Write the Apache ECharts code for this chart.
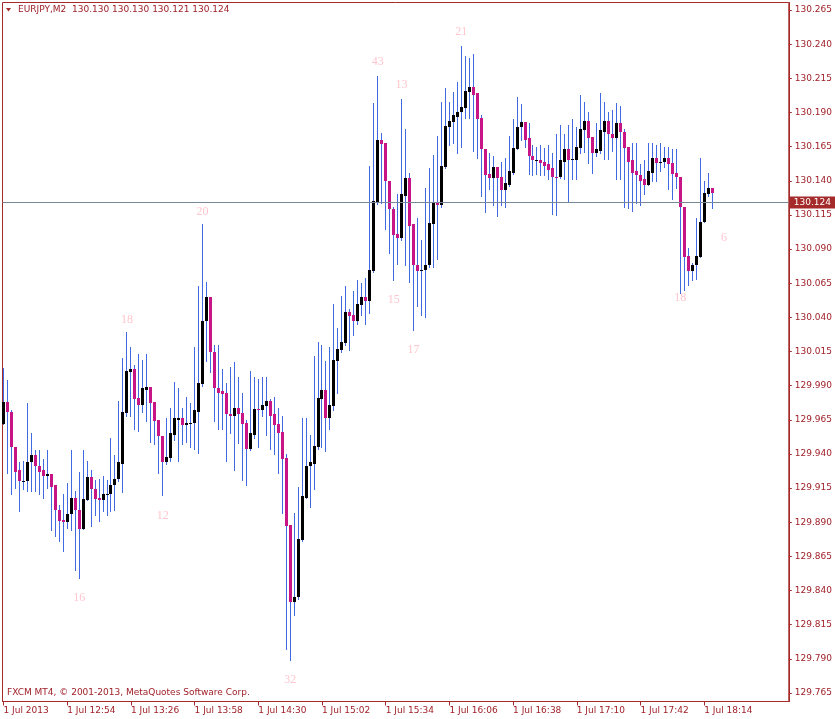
<!DOCTYPE html>
<html>
<head>
<meta charset="utf-8">
<title>EURJPY,M2</title>
<script src="https://cdn.jsdelivr.net/npm/echarts@6/dist/echarts.min.js"></script>
<style>
html, body { margin: 0; padding: 0; background: #fff; }
#chart { width: 835px; height: 719px; }
</style>
</head>
<body>
<div id="chart"></div>
<script>
// EURJPY M2, 1 Jul 2013 - one bar every 2 minutes from 12:22
var opens = [
  129.962, 129.978, 129.971, 129.945, 129.928, 129.920, 129.920, 129.934, 129.939, 129.931,
  129.928, 129.924, 129.925, 129.917, 129.899, 129.892, 129.890, 129.896, 129.908, 129.899,
  129.885, 129.906, 129.923, 129.914, 129.908, 129.906, 129.910, 129.911, 129.917, 129.922,
  129.933, 129.970, 130.000, 130.002, 129.981, 129.976, 129.987, 129.989, 129.978, 129.965,
  129.953, 129.934, 129.937, 129.954, 129.965, 129.966, 129.961, 129.963, 129.963, 129.971,
  129.991, 130.037, 130.055, 130.015, 129.988, 129.986, 129.985, 129.969, 129.968, 129.974,
  129.970, 129.963, 129.944, 129.954, 129.973, 129.972, 129.975, 129.979, 129.969, 129.962,
  129.956, 129.937, 129.888, 129.832, 129.835, 129.877, 129.908, 129.931, 129.933, 129.945,
  129.980, 129.987, 129.966, 129.975, 130.008, 130.016, 130.021, 130.044, 130.042, 130.037,
  130.049, 130.055, 130.052, 130.074, 130.124, 130.170, 130.168, 130.140, 130.119, 130.101,
  130.098, 130.129, 130.142, 130.108, 130.078, 130.074, 130.075, 130.078, 130.108, 130.124,
  130.122, 130.150, 130.179, 130.183, 130.187, 130.190, 130.193, 130.205, 130.209, 130.204,
  130.186, 130.163, 130.145, 130.142, 130.150, 130.143, 130.133, 130.137, 130.146, 130.163,
  130.179, 130.183, 130.171, 130.158, 130.155, 130.155, 130.154, 130.152, 130.149, 130.143,
  130.143, 130.154, 130.163, 130.155, 130.155, 130.164, 130.177, 130.184, 130.172, 130.160,
  130.162, 130.176, 130.184, 130.174, 130.171, 130.182, 130.176, 130.165, 130.155, 130.147,
  130.144, 130.141, 130.137, 130.146, 130.157, 130.153, 130.154, 130.157, 130.153, 130.146,
  130.143, 130.121, 130.085, 130.074, 130.078, 130.084, 130.110, 130.130, 130.135
];
var highs = [
  130.003, 129.994, 129.972, 129.945, 129.934, 129.935, 129.977, 129.955, 129.943, 129.943,
  129.936, 129.943, 129.925, 129.917, 129.903, 129.911, 129.919, 129.943, 129.913, 129.927,
  129.943, 129.935, 129.928, 129.921, 129.922, 129.924, 129.921, 129.952, 129.939, 129.979,
  130.010, 130.029, 130.018, 130.005, 130.013, 130.009, 130.013, 129.989, 129.978, 129.965,
  129.953, 129.966, 129.974, 129.993, 129.988, 129.974, 129.982, 129.977, 130.018, 130.063,
  130.108, 130.066, 130.055, 130.020, 130.020, 130.002, 129.992, 130.004, 130.007, 129.996,
  129.985, 129.965, 130.001, 129.996, 129.995, 129.996, 129.996, 129.980, 129.982, 129.974,
  129.968, 129.940, 129.888, 129.897, 129.916, 129.966, 129.966, 129.954, 130.012, 130.022,
  130.020, 130.008, 130.018, 130.050, 130.032, 130.056, 130.063, 130.046, 130.059, 130.067,
  130.065, 130.069, 130.151, 130.197, 130.217, 130.175, 130.168, 130.140, 130.121, 130.130,
  130.200, 130.178, 130.146, 130.108, 130.113, 130.097, 130.135, 130.149, 130.159, 130.173,
  130.198, 130.208, 130.198, 130.205, 130.212, 130.239, 130.231, 130.230, 130.233, 130.204,
  130.188, 130.163, 130.160, 130.158, 130.150, 130.154, 130.157, 130.173, 130.185, 130.201,
  130.196, 130.183, 130.182, 130.166, 130.165, 130.166, 130.164, 130.166, 130.160, 130.174,
  130.181, 130.174, 130.181, 130.185, 130.179, 130.203, 130.198, 130.190, 130.172, 130.182,
  130.204, 130.198, 130.190, 130.192, 130.197, 130.195, 130.178, 130.165, 130.168, 130.168,
  130.152, 130.155, 130.168, 130.168, 130.166, 130.168, 130.165, 130.165, 130.163, 130.163,
  130.143, 130.121, 130.091, 130.080, 130.113, 130.157, 130.140, 130.146, 130.135
];
var lows = [
  129.962, 129.926, 129.911, 129.915, 129.898, 129.914, 129.913, 129.913, 129.913, 129.911,
  129.908, 129.915, 129.884, 129.880, 129.876, 129.869, 129.886, 129.884, 129.855, 129.849,
  129.885, 129.906, 129.887, 129.895, 129.891, 129.898, 129.895, 129.898, 129.899, 129.920,
  129.912, 129.968, 129.968, 129.958, 129.957, 129.971, 129.964, 129.949, 129.947, 129.926,
  129.910, 129.933, 129.935, 129.950, 129.935, 129.947, 129.949, 129.945, 129.944, 129.941,
  129.990, 130.008, 130.000, 129.964, 129.958, 129.958, 129.935, 129.955, 129.928, 129.948,
  129.921, 129.917, 129.943, 129.952, 129.945, 129.968, 129.954, 129.944, 129.940, 129.926,
  129.897, 129.797, 129.789, 129.822, 129.834, 129.876, 129.908, 129.901, 129.914, 129.944,
  129.945, 129.942, 129.958, 129.972, 129.985, 130.015, 130.020, 130.016, 130.027, 130.035,
  130.042, 130.035, 130.043, 130.073, 130.123, 130.124, 130.105, 130.087, 130.067, 130.079,
  130.097, 130.078, 130.066, 130.031, 130.048, 130.042, 130.040, 130.077, 130.077, 130.083,
  130.121, 130.149, 130.166, 130.168, 130.160, 130.165, 130.186, 130.186, 130.162, 130.157,
  130.129, 130.117, 130.134, 130.122, 130.114, 130.122, 130.121, 130.136, 130.145, 130.163,
  130.170, 130.165, 130.145, 130.144, 130.145, 130.144, 130.144, 130.141, 130.116, 130.115,
  130.142, 130.141, 130.125, 130.141, 130.141, 130.160, 130.161, 130.153, 130.146, 130.158,
  130.160, 130.156, 130.156, 130.162, 130.141, 130.141, 130.121, 130.120, 130.118, 130.124,
  130.122, 130.130, 130.137, 130.140, 130.140, 130.147, 130.150, 130.134, 130.127, 130.135,
  130.058, 130.060, 130.064, 130.067, 130.068, 130.084, 130.110, 130.129, 130.120
];
var closes = [
  129.978, 129.971, 129.945, 129.927, 129.920, 129.920, 129.934, 129.939, 129.931, 129.927,
  129.924, 129.925, 129.916, 129.899, 129.891, 129.890, 129.896, 129.908, 129.899, 129.885,
  129.907, 129.923, 129.914, 129.907, 129.906, 129.911, 129.911, 129.917, 129.922, 129.934,
  129.971, 130.001, 130.002, 129.980, 129.976, 129.988, 129.989, 129.977, 129.964, 129.953,
  129.934, 129.938, 129.955, 129.966, 129.966, 129.961, 129.963, 129.963, 129.972, 129.992,
  130.037, 130.055, 130.015, 129.988, 129.985, 129.984, 129.969, 129.968, 129.974, 129.969,
  129.962, 129.944, 129.955, 129.973, 129.972, 129.976, 129.979, 129.968, 129.961, 129.955,
  129.936, 129.887, 129.832, 129.835, 129.878, 129.909, 129.931, 129.934, 129.946, 129.981,
  129.987, 129.966, 129.976, 130.009, 130.017, 130.022, 130.044, 130.041, 130.037, 130.050,
  130.055, 130.052, 130.075, 130.125, 130.170, 130.167, 130.140, 130.119, 130.100, 130.098,
  130.130, 130.142, 130.107, 130.078, 130.074, 130.075, 130.078, 130.109, 130.124, 130.122,
  130.151, 130.180, 130.184, 130.188, 130.190, 130.194, 130.206, 130.209, 130.203, 130.185,
  130.163, 130.144, 130.142, 130.150, 130.142, 130.133, 130.138, 130.147, 130.164, 130.179,
  130.183, 130.170, 130.158, 130.155, 130.155, 130.153, 130.151, 130.148, 130.143, 130.142,
  130.155, 130.163, 130.155, 130.156, 130.165, 130.178, 130.184, 130.171, 130.160, 130.163,
  130.177, 130.184, 130.174, 130.171, 130.182, 130.176, 130.164, 130.154, 130.146, 130.144,
  130.140, 130.137, 130.147, 130.157, 130.153, 130.154, 130.157, 130.152, 130.145, 130.143,
  130.121, 130.084, 130.074, 130.078, 130.085, 130.110, 130.131, 130.135, 130.131
];

// time axis labels, one every 16 bars (32 minutes)
var tickBars = [0, 16, 32, 48, 64, 80, 96, 112, 128, 144, 160, 176];
var tickLabels = ["1 Jul 2013", "1 Jul 12:54", "1 Jul 13:26", "1 Jul 13:58", "1 Jul 14:30", "1 Jul 15:02",
                  "1 Jul 15:34", "1 Jul 16:06", "1 Jul 16:38", "1 Jul 17:10", "1 Jul 17:42", "1 Jul 18:14"];
var priceTicks = [129.765, 129.790, 129.815, 129.840, 129.865, 129.890, 129.915, 129.940, 129.965, 129.990,
                  130.015, 130.040, 130.065, 130.090, 130.115, 130.140, 130.165, 130.190, 130.215, 130.240, 130.265];

var symbolName = "EURJPY,M2";
var lastBar = [130.130, 130.130, 130.121, 130.124]; // O H L C shown in the header
var bidPrice = 130.124;

// pink swing counters drawn on the chart
var noteText = ["16", "18", "12", "20", "32", "15", "43", "13", "17", "21", "18", "6"];
var noteBar = [19, 31, 40, 50, 72, 98, 94, 100, 103, 115, 170, 181];
var notePrice = [129.835, 130.038, 129.895, 130.117, 129.775, 130.053, 130.227, 130.210, 130.016, 130.249, 130.054, 130.098];

var frameColor = "#a52a2a";
var textColor = "#a0222a";
var wickColor = "#4169e1";
var bullColor = "#000000";
var bearColor = "#c71585";
var uiFont = "DejaVu Sans";

var bars = opens.map(function (o, i) {
    return [i, o, closes[i], lows[i], highs[i]];
});
var notes = noteBar.map(function (b, i) {
    return [b, notePrice[i], noteText[i]];
});

var myChart = echarts.init(document.getElementById("chart"));
var option = {
    animation: false,
    backgroundColor: "#fff",
    grid: {
        left: 2.5,
        top: 2.5,
        width: 790,
        height: 699,
        show: true,
        borderColor: frameColor,
        borderWidth: 1,
        backgroundColor: "#fff"
    },
    xAxis: {
        type: "value",
        min: -0.25,
        max: 197.25,
        splitLine: { show: false },
        axisLine: { show: true, onZero: false, lineStyle: { color: frameColor, width: 1 } },
        axisTick: {
            show: true,
            length: 4,
            customValues: tickBars,
            lineStyle: { color: frameColor }
        },
        axisLabel: {
            customValues: tickBars,
            align: "left",
            margin: 5,
            color: textColor,
            fontFamily: uiFont,
            fontSize: 9,
            formatter: function (v) {
                return tickLabels[tickBars.indexOf(v)];
            }
        }
    },
    yAxis: {
        type: "value",
        position: "right",
        min: 129.7588,
        max: 130.2705,
        scale: true,
        splitLine: { show: false },
        axisLine: { show: true, onZero: false, lineStyle: { color: frameColor, width: 1 } },
        axisTick: {
            show: true,
            length: 3,
            customValues: priceTicks,
            lineStyle: { color: frameColor }
        },
        axisLabel: {
            customValues: priceTicks,
            margin: 6,
            color: textColor,
            fontFamily: uiFont,
            fontSize: 9,
            formatter: function (v) {
                return v.toFixed(3);
            }
        }
    },
    series: [
        {
            // candles: blue high-low line, black body up, violet body down
            type: "custom",
            data: bars,
            encode: { x: 0, y: [1, 2, 3, 4] },
            renderItem: function (params, api) {
                var i = api.value(0);
                var o = api.coord([i, api.value(1)]);
                var c = api.coord([i, api.value(2)]);
                var l = api.coord([i, api.value(3)]);
                var h = api.coord([i, api.value(4)]);
                var cx = Math.floor(o[0]);
                var top = Math.round(Math.min(o[1], c[1]));
                var bot = Math.round(Math.max(o[1], c[1]));
                var up = api.value(2) >= api.value(1);
                return {
                    type: "group",
                    children: [
                        {
                            type: "line",
                            shape: { x1: cx + 0.5, y1: Math.round(h[1]), x2: cx + 0.5, y2: Math.round(l[1]) + 1 },
                            style: { stroke: wickColor, lineWidth: 1 }
                        },
                        {
                            type: "rect",
                            shape: { x: cx - 1, y: top, width: 3, height: Math.max(bot - top, 1) },
                            style: { fill: up ? bullColor : bearColor }
                        }
                    ]
                };
            }
        },
        {
            type: "scatter",
            data: notes,
            symbolSize: 1,
            itemStyle: { color: "rgba(0,0,0,0)" },
            label: {
                show: true,
                position: "inside",
                color: "#ffb6c1",
                fontFamily: "Liberation Serif",
                fontSize: 12,
                formatter: function (p) {
                    return p.value[2];
                }
            },
            markLine: {
                silent: true,
                symbol: "none",
                precision: 3,
                lineStyle: { color: "#778899", type: "solid", width: 1 },
                label: {
                    show: true,
                    position: "end",
                    distance: 1,
                    color: "#fff",
                    backgroundColor: frameColor,
                    padding: [2, 4, 1, 4],
                    fontFamily: uiFont,
                    fontSize: 9,
                    formatter: function () {
                        return bidPrice.toFixed(3);
                    }
                },
                data: [{ yAxis: bidPrice }]
            }
        }
    ],
    graphic: [
        {
            type: "polygon",
            shape: { points: [[6, 8], [11, 8], [8.5, 11.5]] },
            style: { fill: frameColor }
        },
        {
            type: "text",
            left: 18,
            top: 5,
            style: {
                text: symbolName + "  " + lastBar.map(function (v) { return v.toFixed(3); }).join(" "),
                fill: textColor,
                font: "9px '" + uiFont + "'"
            }
        },
        {
            type: "text",
            left: 7,
            top: 688,
            style: {
                text: "FXCM MT4, \u00a9 2001-2013, MetaQuotes Software Corp.",
                fill: textColor,
                font: "9px '" + uiFont + "'"
            }
        }
    ]
};
myChart.setOption(option);
</script>
</body>
</html>
